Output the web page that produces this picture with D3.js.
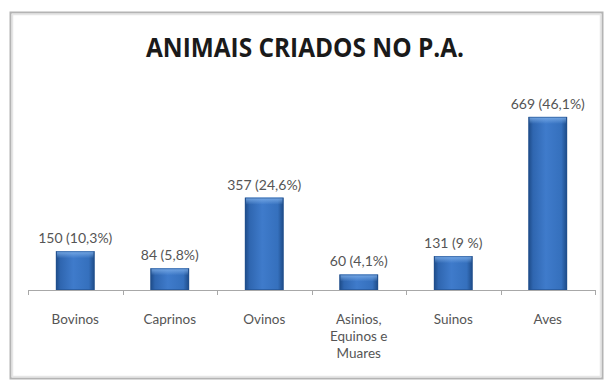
<!DOCTYPE html>
<html>
<head>
<meta charset="utf-8">
<script src="https://cdn.jsdelivr.net/npm/d3@7"></script>
<style>
  html, body { margin: 0; padding: 0; background: #fff; }
  svg { display: block; }
</style>
</head>
<body>
<svg id="chart" width="609" height="383"></svg>
<script>
// Animal counts raised in the settlement (P.A.)
const categories = ["Bovinos", "Caprinos", "Ovinos", "Asinios, Equinos e Muares", "Suinos", "Aves"];
const categoryLines = [["Bovinos"], ["Caprinos"], ["Ovinos"], ["Asinios,", "Equinos e", "Muares"], ["Suinos"], ["Aves"]];
const values = [150, 84, 357, 60, 131, 669];
const valueLabels = ["150 (10,3%)", "84 (5,8%)", "357 (24,6%)", "60 (4,1%)", "131 (9 %)", "669 (46,1%)"];
const titleText = "ANIMAIS CRIADOS NO P.A.";

const svg = d3.select("#chart");
const labelFont = "Lato, 'Open Sans', sans-serif";

// Chart frame with a soft grey edge
svg.append("rect")
  .attr("x", 10.5).attr("y", 12.5)
  .attr("width", 592).attr("height", 366)
  .attr("fill", "#fff")
  .attr("stroke", "#b4b4b4").attr("stroke-width", 2);
svg.append("rect")
  .attr("x", 12.5).attr("y", 14.5)
  .attr("width", 588).attr("height", 362)
  .attr("fill", "none")
  .attr("stroke", "#e6e6e6").attr("stroke-width", 1.5);

// Title
svg.append("text")
  .attr("x", 305).attr("y", 57)
  .attr("text-anchor", "middle")
  .attr("font-family", "'Open Sans', sans-serif")
  .attr("font-weight", "bold")
  .attr("font-size", 27)
  .attr("fill", "#1a1a1a")
  .attr("textLength", 318)
  .attr("lengthAdjust", "spacingAndGlyphs")
  .text(titleText);

const x = d3.scaleBand()
  .domain(categories)
  .range([28, 595])
  .paddingInner(0.59)
  .paddingOuter(0.295);

const y = d3.scaleLinear()
  .domain([0, 800])
  .range([290, 83]);

// Bar shading: dark sides, brighter centre, highlight on top
const defs = svg.append("defs");
const g1 = defs.append("linearGradient").attr("id", "barGrad")
  .attr("x1", "0").attr("x2", "1").attr("y1", "0").attr("y2", "0");
[[0, "#1d4a86"], [0.12, "#2f66b0"], [0.45, "#3f7bcb"], [0.85, "#3570bd"], [1, "#1d4a86"]]
  .forEach(([o, c]) => g1.append("stop").attr("offset", o).attr("stop-color", c));
const g2 = defs.append("linearGradient").attr("id", "topGrad")
  .attr("x1", "0").attr("x2", "0").attr("y1", "0").attr("y2", "1");
[[0, "#7fb0ea", 0.9], [1, "#7fb0ea", 0]]
  .forEach(([o, c, a]) => g2.append("stop").attr("offset", o).attr("stop-color", c).attr("stop-opacity", a));

const bars = svg.append("g");
categories.forEach((c, i) => {
  const bx = x(c), bw = x.bandwidth(), by = y(values[i]), bh = y(0) - y(values[i]);
  bars.append("rect")
    .attr("x", bx).attr("y", by).attr("width", bw).attr("height", bh)
    .attr("fill", "url(#barGrad)");
  bars.append("rect")
    .attr("x", bx + 1).attr("y", by).attr("width", bw - 2).attr("height", Math.min(7, bh))
    .attr("fill", "url(#topGrad)");
  bars.append("rect")
    .attr("x", bx + 0.5).attr("y", by + 0.5).attr("width", bw - 1).attr("height", bh - 1)
    .attr("fill", "none").attr("stroke", "#22508f").attr("stroke-width", 1).attr("stroke-opacity", 0.6);
});

// Category axis
const axisG = svg.append("g");
axisG.append("line")
  .attr("x1", 28).attr("x2", 595)
  .attr("y1", y(0) + 0.5).attr("y2", y(0) + 0.5)
  .attr("stroke", "#a8a8a8").attr("stroke-width", 1);
d3.range(categories.length + 1).forEach(k => {
  const tx = Math.round(28 + k * x.step() / (1) - (k === 0 ? 0 : 0)) + 0.5;
  const px = Math.round(28 + k * (567 / categories.length)) + 0.5;
  axisG.append("line")
    .attr("x1", px).attr("x2", px)
    .attr("y1", y(0)).attr("y2", y(0) + 5)
    .attr("stroke", "#a8a8a8");
});

// Category labels
categories.forEach((c, i) => {
  const cx = x(c) + x.bandwidth() / 2;
  const t = axisG.append("text")
    .attr("x", cx)
    .attr("y", 324)
    .attr("text-anchor", "middle")
    .attr("font-family", labelFont)
    .attr("font-size", 13.5)
    .attr("fill", "#555");
  categoryLines[i].forEach((line, j) => {
    t.append("tspan")
      .attr("x", cx)
      .attr("dy", j === 0 ? 0 : 17)
      .text(line);
  });
});

// Value labels above bars
categories.forEach((c, i) => {
  svg.append("text")
    .attr("x", x(c) + x.bandwidth() / 2)
    .attr("y", y(values[i]) - 8)
    .attr("text-anchor", "middle")
    .attr("font-family", labelFont)
    .attr("font-size", 14)
    .attr("fill", "#555")
    .text(valueLabels[i]);
});
</script>
</body>
</html>
